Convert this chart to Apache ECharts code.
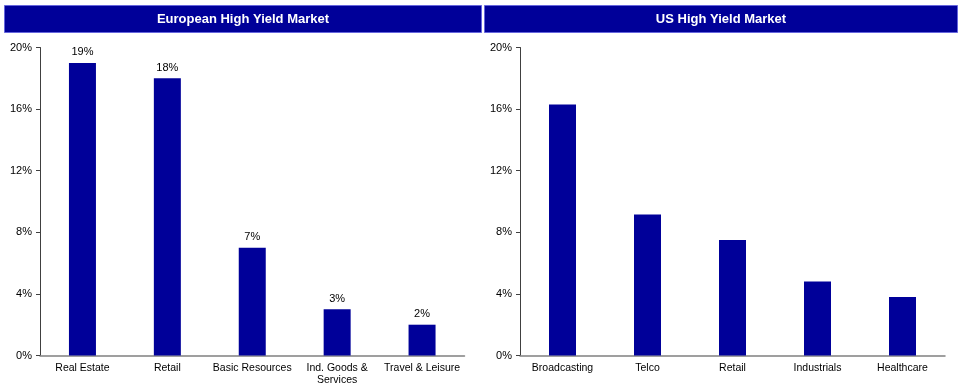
<!DOCTYPE html>
<html><head><meta charset="utf-8">
<script src="https://cdn.jsdelivr.net/npm/echarts@6/dist/echarts.min.js"></script>
<style>html,body{margin:0;padding:0;background:#fff}#c{width:960px;height:391px}</style>
</head><body><div id="c"></div>
<script>
const euTitle = 'European High Yield Market';
const usTitle = 'US High Yield Market';
const euCategories = ['Real Estate', 'Retail', 'Basic Resources', 'Ind. Goods &\nServices', 'Travel & Leisure'];
const euValues = [19, 18, 7, 3, 2];
const usCategories = ['Broadcasting', 'Telco', 'Retail', 'Industrials', 'Healthcare'];
const usValues = [16.3, 9.15, 7.5, 4.8, 3.8];
const yTicks = [0, 4, 8, 12, 16, 20];

const FONT = '"Liberation Sans", Arial, sans-serif';
const BAR = '#000099';

function yAxis(i) {
  return {
    type: 'value', gridIndex: i, min: yTicks[0], max: yTicks[yTicks.length - 1], interval: yTicks[1] - yTicks[0],
    axisLine: {show: true, lineStyle: {color: '#404040', width: 1}},
    axisTick: {show: true, length: 4, lineStyle: {color: '#404040'}},
    splitLine: {show: false},
    axisLabel: {formatter: v => v + '%', fontFamily: FONT, fontSize: 11, color: '#000', margin: 8}
  };
}
function xAxis(i, cats) {
  return {
    type: 'category', gridIndex: i, data: cats,
    axisLine: {show: true, lineStyle: {color: '#808080', width: 1.5}},
    axisTick: {show: false},
    axisLabel: {fontFamily: FONT, fontSize: 10.5, color: '#000', margin: 7, lineHeight: 12, interval: 0}
  };
}
function header(x, w, text) {
  return {
    type: 'group', left: x, top: 5,
    children: [
      {type: 'rect', shape: {x: 0, y: 0, width: w, height: 27}, style: {fill: BAR, stroke: '#6666dd', lineWidth: 1}},
      {type: 'text', x: w / 2, y: 14, style: {text: text, fill: '#fff', font: 'bold 13px ' + FONT, textAlign: 'center', textVerticalAlign: 'middle'}}
    ]
  };
}

const chart = echarts.init(document.getElementById('c'), null, {renderer: 'canvas'});
chart.setOption({
  animation: false,
  grid: [
    {left: 40, right: 495.5, top: 47.5, height: 308},
    {left: 520, right: 15, top: 47.5, height: 308}
  ],
  xAxis: [xAxis(0, euCategories), xAxis(1, usCategories)],
  yAxis: [yAxis(0), yAxis(1)],
  series: [
    {type: 'bar', xAxisIndex: 0, yAxisIndex: 0, data: euValues, barWidth: 27,
     itemStyle: {color: BAR},
     label: {show: true, position: 'top', distance: 5, formatter: p => p.value + '%', fontFamily: FONT, fontSize: 11, color: '#000'}},
    {type: 'bar', xAxisIndex: 1, yAxisIndex: 1, data: usValues, barWidth: 27,
     itemStyle: {color: BAR}}
  ],
  graphic: [header(4, 477, euTitle), header(484, 473, usTitle)]
});
</script></body></html>
